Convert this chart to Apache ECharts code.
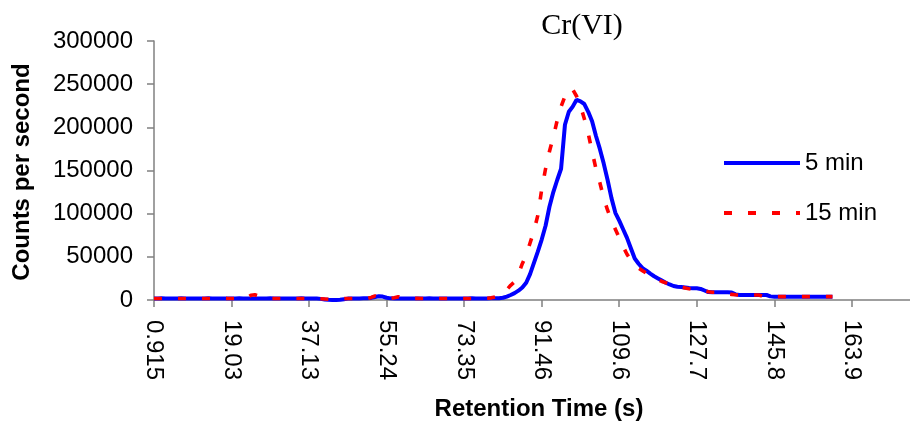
<!DOCTYPE html>
<html>
<head>
<meta charset="utf-8">
<style>
  html, body { margin: 0; padding: 0; background: #fff; }
  #chart { width: 910px; height: 423px; }
</style>
<script src="https://cdn.jsdelivr.net/npm/echarts@6/dist/echarts.min.js"></script>
</head>
<body>
<div id="chart"></div>
<script>
// Tick labels shown every 20 samples along the retention-time axis (s)
const xTickLabels = ['0.915', '19.03', '37.13', '55.24', '73.35', '91.46', '109.6', '127.7', '145.8', '163.9'];
const tickStep = 20;
const sampleCount = 196;

const yTicks = { min: 0, max: 300000, interval: 50000 };

const seriesNames = ['5 min', '15 min'];

// Counts per second, one value per sample
const fiveMin = [
  1800, 1800, 1900, 1800, 1700, 1800, 1800, 1900, 1800, 1800,
  1800, 1700, 1800, 1800, 1900, 1800, 1800, 1800, 1700, 1800,
  1800, 1800, 1900, 1800, 1800, 1800, 1700, 1800, 1800, 1800,
  1900, 1800, 1800, 1800, 1700, 1800, 1800, 1800, 1900, 1800,
  1800, 1700, 1600, 1300, 700, 200, 0, 0, 200, 900,
  1600, 1800, 1800, 1800, 1900, 2000, 2400, 3500, 4300, 4000,
  2600, 1900, 1800, 1800, 1800, 1700, 1800, 1800, 1800, 1800,
  1800, 1900, 1800, 1800, 1800, 1700, 1800, 1800, 1800, 1800,
  1800, 1800, 1900, 1800, 1800, 1800, 1800, 1900, 2000, 2100,
  2600, 4000, 5800, 8000, 10800, 14500, 20000, 30000, 43000, 56000,
  70000, 86000, 108000, 125000, 139000, 152000, 203000, 218000, 224000, 232000,
  230000, 227000, 218000, 207000, 190000, 175000, 158000, 139000, 118000, 101000,
  92000, 82000, 72000, 60000, 48000, 42000, 37000, 34000, 30500, 27500,
  25000, 22500, 20000, 18000, 16200, 15400, 15000, 14500, 13800, 13500,
  13500, 12800, 11000, 9200, 8900, 8900, 8900, 8900, 8900, 8700,
  6500, 5800, 5800, 5800, 5800, 5800, 5800, 5800, 5800, 4200,
  3900, 3900, 3900, 3900, 3900, 3900, 3900, 3900, 3900, 3900,
  3900, 3900, 3900, 3900, 3900, 3900
];

const fifteenMin = [
  1800, 1800, 1800, 1900, 1800, 1800, 1700, 1800, 1800, 1800,
  1800, 1900, 1800, 1800, 1800, 1700, 1800, 1800, 1900, 1800,
  1800, 1800, 1800, 1900, 2500, 5500, 6000, 4500, 2000, 1800,
  1800, 1800, 1700, 1800, 1800, 1900, 1800, 1800, 1800, 1800,
  1800, 1800, 1700, 1500, 1200, 800, 600, 800, 1200, 1600,
  1800, 1800, 1800, 1900, 1800, 1800, 3000, 4600, 3200, 1900,
  1800, 1800, 2500, 3800, 2300, 1800, 1800, 1800, 1900, 1800,
  1800, 1800, 1800, 1700, 1800, 1800, 1800, 1900, 1800, 1800,
  1800, 1800, 1800, 1800, 1900, 1800, 2000, 2500, 3500, 4500,
  8000, 12000, 17000, 21000, 30000, 42000, 52000, 66000, 80000, 98000,
  128000, 152000, 172000, 189000, 208000, 224000, 236000, 245000, 244000, 236000,
  225000, 210000, 193000, 172000, 152000, 136000, 118000, 104000, 92000, 82000,
  72000, 62000, 53000, 46000, 41000, 37000, 34000, 31000, 28000, 25500,
  23500, 21500, 20000, 19000, 17500, 16000, 15000, 14000, 13000, 12500,
  12000, 11000, 10500, 9500, 9000, 8900, 8000, 7500, 7000, 6500,
  6000, 5800, 5800, 5800, 5800, 5800, 5800, 4500, 3900, 3900,
  3900, 3900, 3900, 3900, 3900, 3900, 3900, 3900, 3900, 3900,
  3900, 3900, 3900, 3900, 3900, 3900
];

const sansFont = '"Liberation Sans", Arial, sans-serif';
const serifFont = '"Liberation Serif", "Times New Roman", serif';
const axisGray = '#808080';
const blue = '#0000ff';
const red = '#ff0000';
const redDash = [8, 16];

const categories = Array.from({ length: sampleCount }, (_, i) => String(i));
const isTick = (i) => i % tickStep === 0;

const chart = echarts.init(document.getElementById('chart'), null, { renderer: 'canvas' });

chart.setOption({
  animation: false,
  backgroundColor: '#ffffff',
  grid: { left: 154, right: 0, top: 41, bottom: 123, containLabel: false },
  xAxis: {
    type: 'category',
    data: categories,
    boundaryGap: false,
    axisLine: { show: true, lineStyle: { color: axisGray, width: 1.5 } },
    axisTick: { show: true, inside: false, length: 7, interval: isTick, lineStyle: { color: axisGray, width: 1.5 } },
    axisLabel: {
      interval: isTick,
      rotate: -90,
      margin: 20,
      color: '#000',
      fontFamily: sansFont,
      fontSize: 24,
      formatter: (v, i) => xTickLabels[i / tickStep] ?? ''
    },
    splitLine: { show: false }
  },
  yAxis: {
    type: 'value',
    min: yTicks.min,
    max: yTicks.max,
    interval: yTicks.interval,
    axisLine: { show: true, lineStyle: { color: axisGray, width: 1.5 } },
    axisTick: { show: true, inside: false, length: 7, lineStyle: { color: axisGray, width: 1.5 } },
    axisLabel: {
      margin: 21, color: '#000', fontFamily: sansFont, fontSize: 24,
      formatter: (v) => String(v)
    },
    splitLine: { show: false }
  },
  legend: {
    orient: 'vertical',
    left: 717,
    top: 146,
    itemWidth: 76,
    itemHeight: 14,
    itemGap: 26,
    data: [
      { name: seriesNames[0], lineStyle: { color: blue, width: 4 } },
      { name: seriesNames[1], lineStyle: { color: red, width: 4, type: redDash } }
    ],
    itemStyle: { opacity: 0 },
    textStyle: { color: '#000', fontFamily: sansFont, fontSize: 24 }
  },
  series: [
    {
      name: seriesNames[0],
      type: 'line',
      data: fiveMin,
      symbol: 'none',
      showSymbol: false,
      lineStyle: { color: blue, width: 4 },
      itemStyle: { color: blue },
      z: 2
    },
    {
      name: seriesNames[1],
      type: 'line',
      data: fifteenMin,
      symbol: 'none',
      showSymbol: false,
      lineStyle: { color: red, width: 3.6, type: redDash },
      itemStyle: { color: red },
      z: 3
    }
  ],
  graphic: [
    {
      type: 'text',
      x: 582, y: 26,
      style: { text: 'Cr(VI)', font: '30px ' + serifFont, fill: '#000', textAlign: 'center', textVerticalAlign: 'middle' }
    },
    {
      type: 'text',
      x: 539, y: 409,
      style: { text: 'Retention Time (s)', font: 'bold 24px ' + sansFont, fill: '#000', textAlign: 'center', textVerticalAlign: 'middle' }
    },
    {
      type: 'text',
      x: 22, y: 172,
      rotation: Math.PI / 2,
      style: { text: 'Counts per second', font: 'bold 24px ' + sansFont, fill: '#000', textAlign: 'center', textVerticalAlign: 'middle' }
    }
  ]
});
</script>
</body>
</html>
